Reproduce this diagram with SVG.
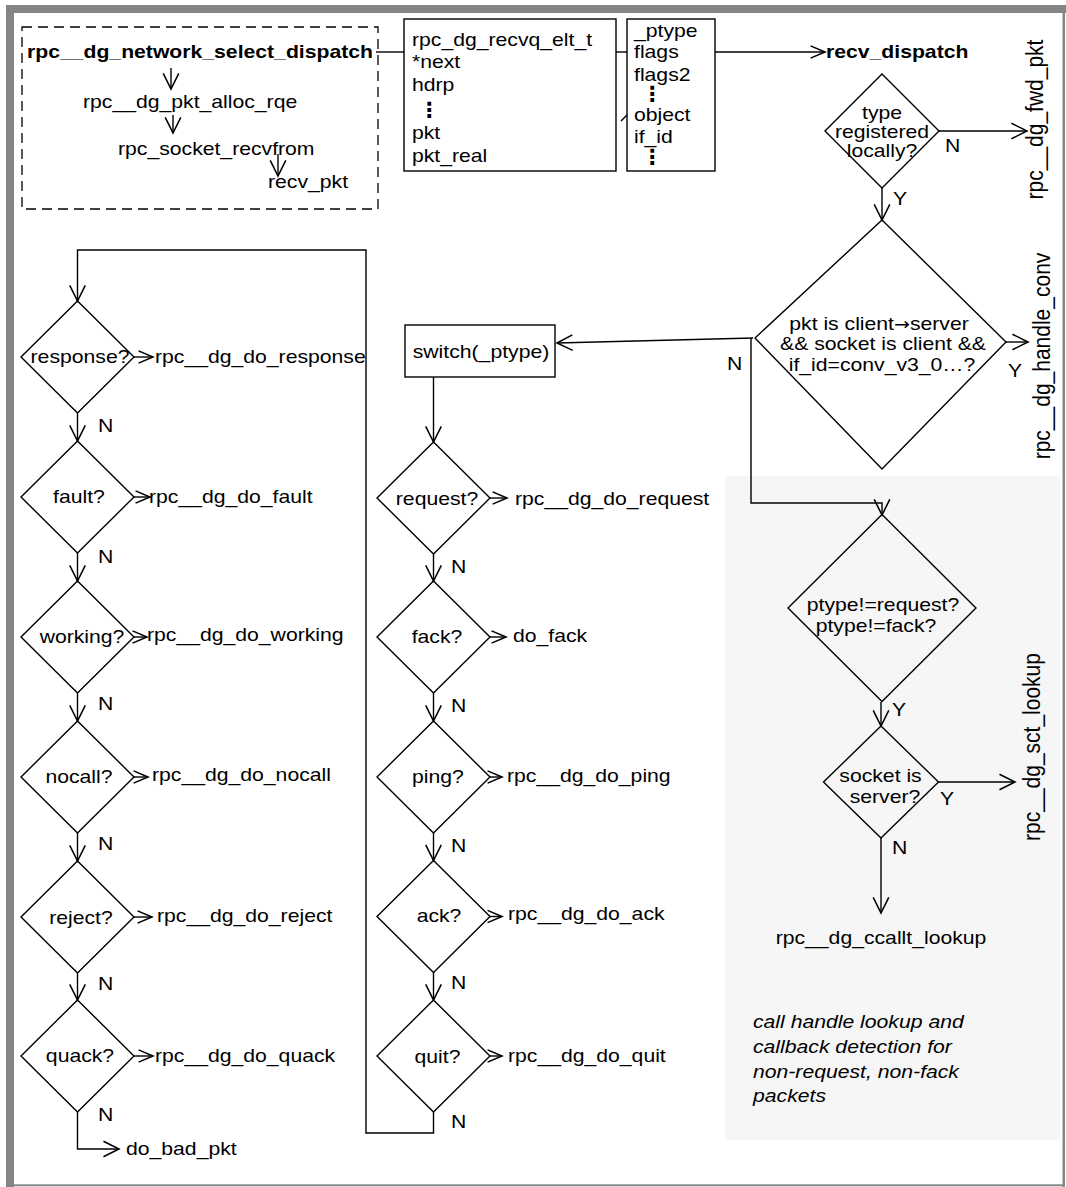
<svg xmlns="http://www.w3.org/2000/svg" width="1066" height="1187" viewBox="0 0 1066 1187">
<style>
.t{font-family:"Liberation Sans",Arial,Helvetica,sans-serif;font-size:19px;fill:#000}
.b{font-weight:bold}
.i{font-style:italic}
.m{text-anchor:middle}
.v{font-size:21px}
.arr{font-family:"DejaVu Sans",sans-serif;font-size:17px}
.dots{font-family:"DejaVu Sans",sans-serif;font-size:21px;font-weight:bold;text-anchor:middle;fill:#000}
.sh{fill:none;stroke:#000;stroke-width:1.4}
.ln{fill:none;stroke:#000;stroke-width:1.4}
.a{marker-end:url(#ah)}
.s{marker-end:url(#as)}
</style>
<defs>
<marker id="ah" markerUnits="userSpaceOnUse" markerWidth="20" markerHeight="20" viewBox="-16 -9 18 18" refX="0" refY="0" orient="auto" overflow="visible">
<path d="M-14,-7 L0,0 L-14,7" fill="none" stroke="#000" stroke-width="1.4"/>
</marker>
<marker id="as" markerUnits="userSpaceOnUse" markerWidth="20" markerHeight="20" viewBox="-16 -9 18 18" refX="0" refY="0" orient="auto" overflow="visible">
<path d="M-13,-5.5 L0,0 L-13,5.5" fill="none" stroke="#000" stroke-width="1.4"/>
</marker>
</defs>
<rect x="0" y="0" width="1066" height="1187" fill="#fff"/>
<g id="frame" fill="#858585">
<path d="M6,5 H1066 V13 H14 V1187 H6 Z"/>
<rect x="1062.5" y="5" width="2.5" height="1182"/>
<rect x="6" y="1184.3" width="1059" height="2"/>
</g>
<g id="panel">
<rect x="725" y="476" width="335" height="664" fill="#f6f6f6"/>
<text class="t i" transform="matrix(1.115 0 0 1 753 1028)">call handle lookup and</text>
<text class="t i" transform="matrix(1.115 0 0 1 753 1053)">callback detection for</text>
<text class="t i" transform="matrix(1.115 0 0 1 753 1078)">non-request, non-fack</text>
<text class="t i" transform="matrix(1.115 0 0 1 753 1102)">packets</text>
</g>
<g id="connectors">
<path class="ln" d="M376,52 H404"/>
<path class="ln" d="M616,52 H627"/>
<path class="ln s" d="M715,52 H825"/>
<path class="ln a" d="M171,68 V89"/>
<path class="ln a" d="M173,115 V133"/>
<path class="ln a" d="M278,154 V176"/>
<path class="ln" d="M621,121 L627,115"/>
<path class="ln a" d="M882,188 V220"/>
<path class="ln a" d="M939,131 H1027"/>
<path class="ln a" d="M1006,342 H1028"/>
<path class="ln a" d="M753,338 L557,343"/>
<path class="ln a" d="M751,338 V503 H882 V515"/>
<path class="ln a" d="M433.5,377 V442"/>
<path class="ln a" d="M433.5,554 V581"/>
<path class="ln a" d="M433.5,693 V721"/>
<path class="ln a" d="M433.5,833 V860.5"/>
<path class="ln a" d="M433.5,972.5 V1000"/>
<path class="ln a" d="M433.5,1112 V1133 H366 V250 H77.5 V301"/>
<path class="ln a" d="M77.5,413 V441"/>
<path class="ln a" d="M77.5,553 V581"/>
<path class="ln a" d="M77.5,693 V721"/>
<path class="ln a" d="M77.5,833 V861"/>
<path class="ln a" d="M77.5,973 V1000"/>
<path class="ln a" d="M77.5,1112 V1149 H119"/>
<path class="ln s" d="M134,357 H153"/>
<path class="ln s" d="M134,497 H150"/>
<path class="ln s" d="M134,637 H147"/>
<path class="ln s" d="M134,777 H148"/>
<path class="ln s" d="M134,917 H152"/>
<path class="ln s" d="M134,1056 H153"/>
<path class="ln s" d="M490,498 H507"/>
<path class="ln s" d="M490,637 H506"/>
<path class="ln s" d="M490,777 H502"/>
<path class="ln s" d="M490,916.5 H502"/>
<path class="ln s" d="M490,1056 H502"/>
<path class="ln a" d="M881,702 V726"/>
<path class="ln a" d="M938.5,782 H1015"/>
<path class="ln a" d="M881,838 V913"/>
</g>
<g id="n-network-select-dispatch">
<rect x="22" y="27" width="356" height="182" fill="none" stroke="#000" stroke-width="1.3" stroke-dasharray="10 6"/>
<text class="t b" transform="matrix(1.115 0 0 1 27 58)">rpc__dg_network_select_dispatch</text>
<text class="t" transform="matrix(1.115 0 0 1 83 108)">rpc__dg_pkt_alloc_rqe</text>
<text class="t" transform="matrix(1.115 0 0 1 118 155)">rpc_socket_recvfrom</text>
<text class="t" transform="matrix(1.115 0 0 1 268 188)">recv_pkt</text>
</g>
<g id="n-recvq-elt">
<rect class="sh" x="404" y="19" width="212" height="152"/>
<text class="t" transform="matrix(1.115 0 0 1 412 46)">rpc_dg_recvq_elt_t</text>
<text class="t" transform="matrix(1.115 0 0 1 412 68)">*next</text>
<text class="t" transform="matrix(1.115 0 0 1 412 91)">hdrp</text>
<text class="dots" x="429" y="117">⋮</text>
<text class="t" transform="matrix(1.115 0 0 1 412 139)">pkt</text>
<text class="t" transform="matrix(1.115 0 0 1 412 162)">pkt_real</text>
</g>
<g id="n-pkt-hdr">
<rect class="sh" x="627" y="19" width="88" height="152"/>
<text class="t" transform="matrix(1.115 0 0 1 634 36.5)">_ptype</text>
<text class="t" transform="matrix(1.115 0 0 1 634 58)">flags</text>
<text class="t" transform="matrix(1.115 0 0 1 634 80.5)">flags2</text>
<text class="dots" x="652" y="101">⋮</text>
<text class="t" transform="matrix(1.115 0 0 1 634 120.5)">object</text>
<text class="t" transform="matrix(1.115 0 0 1 634 142.5)">if_id</text>
<text class="dots" x="652" y="164">⋮</text>
</g>
<g id="n-recv-dispatch">
<text class="t b" transform="matrix(1.115 0 0 1 826 58)">recv_dispatch</text>
</g>
<g id="n-type-registered">
<polygon class="sh" points="882,74 939,131 882,188 825,131"/>
<text class="t m" transform="matrix(1.115 0 0 1 882 119)">type</text>
<text class="t m" transform="matrix(1.115 0 0 1 882 137.5)">registered</text>
<text class="t m" transform="matrix(1.115 0 0 1 882 157)">locally?</text>
<text class="t" transform="matrix(1.115 0 0 1 945 151.5)">N</text>
<text class="t" transform="matrix(1.115 0 0 1 893 205)">Y</text>
</g>
<g id="n-fwd-pkt">
<text class="t v m" transform="matrix(1.115 0 0 1 1043 119.5) rotate(-90)">rpc__dg_fwd_pkt</text>
</g>
<g id="n-conv-check">
<polygon class="sh" points="882,220 1006,342 882,469 755,338"/>
<text class="t m" transform="matrix(1.115 0 0 1 879 330)">pkt is client<tspan class="arr">→</tspan>server</text>
<text class="t m" transform="matrix(1.115 0 0 1 883 350)">&amp;&amp; socket is client &amp;&amp;</text>
<text class="t m" transform="matrix(1.115 0 0 1 882 370.5)">if_id=conv_v3_0…?</text>
<text class="t" transform="matrix(1.115 0 0 1 1008 376.5)">Y</text>
<text class="t" transform="matrix(1.115 0 0 1 727 370)">N</text>
</g>
<g id="n-handle-conv">
<text class="t v m" transform="matrix(1.115 0 0 1 1050 356) rotate(-90)">rpc__dg_handle_conv</text>
</g>
<g id="n-switch">
<rect class="sh" x="405" y="325" width="150" height="52"/>
<text class="t m" transform="matrix(1.115 0 0 1 481 358)">switch(_ptype)</text>
</g>
<g id="n-request">
<polygon class="sh" points="433.5,442 490,498 433.5,554 377,498"/>
<text class="t m" transform="matrix(1.115 0 0 1 437 505)">request?</text>
<text class="t" transform="matrix(1.115 0 0 1 515 505)">rpc__dg_do_request</text>
<text class="t" transform="matrix(1.115 0 0 1 451 573)">N</text>
</g>
<g id="n-fack">
<polygon class="sh" points="433.5,581 490,637 433.5,693 377,637"/>
<text class="t m" transform="matrix(1.115 0 0 1 437 643)">fack?</text>
<text class="t" transform="matrix(1.115 0 0 1 513 642)">do_fack</text>
<text class="t" transform="matrix(1.115 0 0 1 451 712)">N</text>
</g>
<g id="n-ping">
<polygon class="sh" points="433.5,721 490,777 433.5,833 377,777"/>
<text class="t m" transform="matrix(1.115 0 0 1 438 783)">ping?</text>
<text class="t" transform="matrix(1.115 0 0 1 507 782)">rpc__dg_do_ping</text>
<text class="t" transform="matrix(1.115 0 0 1 451 852)">N</text>
</g>
<g id="n-ack">
<polygon class="sh" points="433.5,860.5 490,916.5 433.5,972.5 377,916.5"/>
<text class="t m" transform="matrix(1.115 0 0 1 439 922)">ack?</text>
<text class="t" transform="matrix(1.115 0 0 1 508 920)">rpc__dg_do_ack</text>
<text class="t" transform="matrix(1.115 0 0 1 451 989)">N</text>
</g>
<g id="n-quit">
<polygon class="sh" points="433.5,1000 490,1056 433.5,1112 377,1056"/>
<text class="t m" transform="matrix(1.115 0 0 1 437.5 1063)">quit?</text>
<text class="t" transform="matrix(1.115 0 0 1 508 1062)">rpc__dg_do_quit</text>
<text class="t" transform="matrix(1.115 0 0 1 451 1128)">N</text>
</g>
<g id="n-response">
<polygon class="sh" points="77.5,301 134,357 77.5,413 21,357"/>
<text class="t m" transform="matrix(1.115 0 0 1 80 363)">response?</text>
<text class="t" transform="matrix(1.115 0 0 1 155 363)">rpc__dg_do_response</text>
<text class="t" transform="matrix(1.115 0 0 1 98 432)">N</text>
</g>
<g id="n-fault">
<polygon class="sh" points="77.5,441 134,497 77.5,553 21,497"/>
<text class="t m" transform="matrix(1.115 0 0 1 79 503)">fault?</text>
<text class="t" transform="matrix(1.115 0 0 1 149 503)">rpc__dg_do_fault</text>
<text class="t" transform="matrix(1.115 0 0 1 98 563)">N</text>
</g>
<g id="n-working">
<polygon class="sh" points="77.5,581 134,637 77.5,693 21,637"/>
<text class="t m" transform="matrix(1.115 0 0 1 82 643)">working?</text>
<text class="t" transform="matrix(1.115 0 0 1 147 641)">rpc__dg_do_working</text>
<text class="t" transform="matrix(1.115 0 0 1 98 710)">N</text>
</g>
<g id="n-nocall">
<polygon class="sh" points="77.5,721 134,777 77.5,833 21,777"/>
<text class="t m" transform="matrix(1.115 0 0 1 79 783)">nocall?</text>
<text class="t" transform="matrix(1.115 0 0 1 152 781)">rpc__dg_do_nocall</text>
<text class="t" transform="matrix(1.115 0 0 1 98 850)">N</text>
</g>
<g id="n-reject">
<polygon class="sh" points="77.5,861 134,917 77.5,973 21,917"/>
<text class="t m" transform="matrix(1.115 0 0 1 81 924)">reject?</text>
<text class="t" transform="matrix(1.115 0 0 1 157 922)">rpc__dg_do_reject</text>
<text class="t" transform="matrix(1.115 0 0 1 98 990)">N</text>
</g>
<g id="n-quack">
<polygon class="sh" points="77.5,1000 134,1056 77.5,1112 21,1056"/>
<text class="t m" transform="matrix(1.115 0 0 1 80 1062)">quack?</text>
<text class="t" transform="matrix(1.115 0 0 1 155 1062)">rpc__dg_do_quack</text>
<text class="t" transform="matrix(1.115 0 0 1 98 1121)">N</text>
</g>
<g id="n-bad-pkt">
<text class="t" transform="matrix(1.115 0 0 1 126 1155)">do_bad_pkt</text>
</g>
<g id="n-ptype-check">
<polygon class="sh" points="882,514.5 976,608 882,701.5 788,608"/>
<text class="t m" transform="matrix(1.115 0 0 1 883 611)">ptype!=request?</text>
<text class="t m" transform="matrix(1.115 0 0 1 876 632)">ptype!=fack?</text>
<text class="t" transform="matrix(1.115 0 0 1 892 716)">Y</text>
</g>
<g id="n-socket-server">
<polygon class="sh" points="881,726 938.5,782 881,838 823.5,782"/>
<text class="t m" transform="matrix(1.115 0 0 1 880.5 782)">socket is</text>
<text class="t m" transform="matrix(1.115 0 0 1 885 803)">server?</text>
<text class="t" transform="matrix(1.115 0 0 1 940 805)">Y</text>
<text class="t" transform="matrix(1.115 0 0 1 892 854)">N</text>
</g>
<g id="n-sct-lookup">
<text class="t v m" transform="matrix(1.115 0 0 1 1040 747) rotate(-90)">rpc__dg_sct_lookup</text>
</g>
<g id="n-ccallt-lookup">
<text class="t m" transform="matrix(1.115 0 0 1 881 944)">rpc__dg_ccallt_lookup</text>
</g>
</svg>
